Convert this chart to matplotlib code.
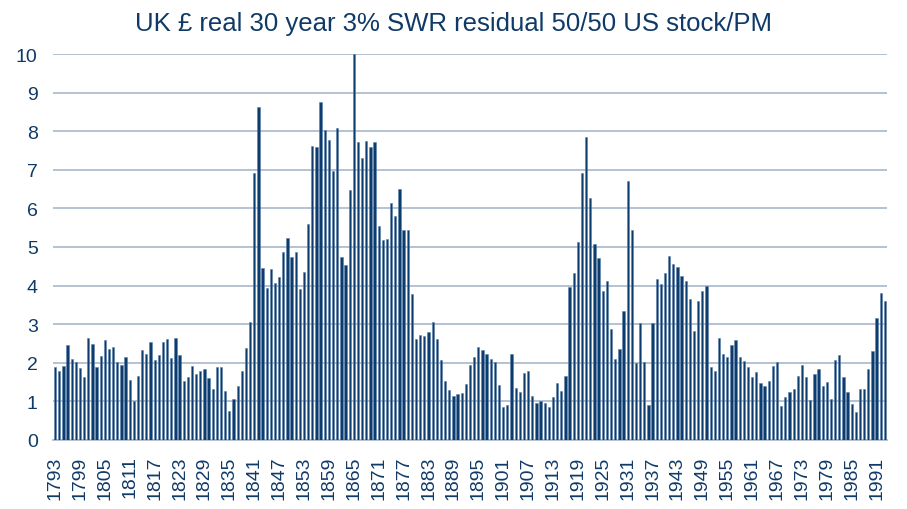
#!/usr/bin/env python3
"""UK real 30-year 3% SWR residual, 50/50 US stock/PM — bar chart by start year."""

import numpy as np
import matplotlib
matplotlib.use('Agg')
import matplotlib.pyplot as plt

plt.rcParams['font.family'] = ['Liberation Sans', 'DejaVu Sans']

# ── data ───────────────────────────────────────────────────────────────────
years = list(range(1793, 1994))

residual = [
    1.90, 1.78, 1.93, 2.46, 2.09, 2.01, 1.86, 1.63, 2.65, 2.49,   # 1793-1802
    1.90, 2.18, 2.59, 2.35, 2.41, 2.01, 1.95, 2.15, 1.55, 1.02,   # 1803-1812
    1.66, 2.34, 2.22, 2.53, 2.06, 2.21, 2.53, 2.61, 2.13, 2.65,   # 1813-1822
    2.21, 1.53, 1.64, 1.92, 1.71, 1.79, 1.85, 1.60, 1.32, 1.90,   # 1823-1832
    1.90, 1.26, 0.75, 1.07, 1.40, 1.78, 2.38, 3.05, 6.92, 8.63,   # 1833-1842
    4.46, 3.95, 4.42, 4.07, 4.21, 4.86, 5.23, 4.75, 4.88, 3.90,   # 1843-1852
    4.34, 5.60, 7.61, 7.58, 8.75, 8.03, 7.77, 6.97, 8.09, 4.75,   # 1853-1862
    4.53, 6.48, 10.0, 7.72, 7.31, 7.74, 7.60, 7.72, 5.55, 5.17,   # 1863-1872
    5.21, 6.14, 5.80, 6.50, 5.45, 5.45, 3.78, 2.61, 2.72, 2.70,   # 1873-1882
    2.81, 3.05, 2.61, 2.07, 1.53, 1.30, 1.14, 1.19, 1.21, 1.45,   # 1883-1892
    1.95, 2.15, 2.40, 2.32, 2.23, 2.11, 2.03, 1.42, 0.86, 0.90,   # 1893-1902
    2.23, 1.34, 1.24, 1.73, 1.78, 1.14, 0.95, 1.00, 0.95, 0.85,   # 1903-1912
    1.11, 1.47, 1.27, 1.66, 3.96, 4.32, 5.13, 6.92, 7.86, 6.27,   # 1913-1922
    5.07, 4.71, 3.85, 4.13, 2.88, 2.09, 2.37, 3.34, 6.70, 5.44,   # 1923-1932
    1.99, 3.04, 2.02, 0.91, 3.04, 4.16, 4.05, 4.33, 4.77, 4.57,   # 1933-1942
    4.47, 4.25, 4.11, 3.64, 2.83, 3.59, 3.86, 4.00, 1.90, 1.78,   # 1943-1952
    2.64, 2.22, 2.16, 2.45, 2.58, 2.14, 2.05, 1.88, 1.63, 1.75,   # 1953-1962
    1.47, 1.40, 1.52, 1.91, 2.02, 0.87, 1.12, 1.25, 1.33, 1.67,   # 1963-1972
    1.94, 1.63, 1.03, 1.70, 1.84, 1.41, 1.49, 1.07, 2.07, 2.20,   # 1973-1982
    1.63, 1.25, 0.93, 0.72, 1.33, 1.31, 1.84, 2.31, 3.15, 3.82,   # 1983-1992
    3.59,                                                         # 1993
]

y_ticks = list(range(0, 11))
label_every = 6

# ── style ─────────────────────────────────────────────────────────────────
NAVY = '#0c3b6d'
TEXT = '#0f3a68'
GRID = '#a8b7c9'

fig = plt.figure(figsize=(9.07, 5.10), dpi=100)
ax = fig.add_axes([53 / 907, 69 / 510, 834 / 907, 386 / 510])

x = np.arange(len(years))
ax.bar(x, residual, width=0.55, color=NAVY, edgecolor='#5f83ab',
       linewidth=0.4, zorder=3)

ax.set_xlim(-0.5, len(years) - 0.5)
ax.set_ylim(0, 10)
ax.set_yticks(y_ticks)
ax.set_yticklabels([str(t) for t in y_ticks])
ax.yaxis.grid(True, color=GRID, linewidth=1.2, zorder=0)

tick_idx = x[::label_every]
ax.set_xticks(tick_idx)
ax.set_xticklabels([str(years[i]) for i in tick_idx], rotation=90)

ax.tick_params(axis='y', length=0, pad=11, labelsize=14, labelcolor=TEXT)
ax.tick_params(axis='x', length=0, pad=11, labelsize=14, labelcolor=TEXT)

for side in ('top', 'right', 'left'):
    ax.spines[side].set_visible(False)
ax.spines['bottom'].set_color(GRID)
ax.spines['bottom'].set_linewidth(1.2)

fig.text(0.5, 1 - 24 / 510, 'UK £ real 30 year 3% SWR residual 50/50 US stock/PM',
         ha='center', va='center', fontsize=18.5, color=TEXT)

fig.savefig('out.png', dpi=100)
